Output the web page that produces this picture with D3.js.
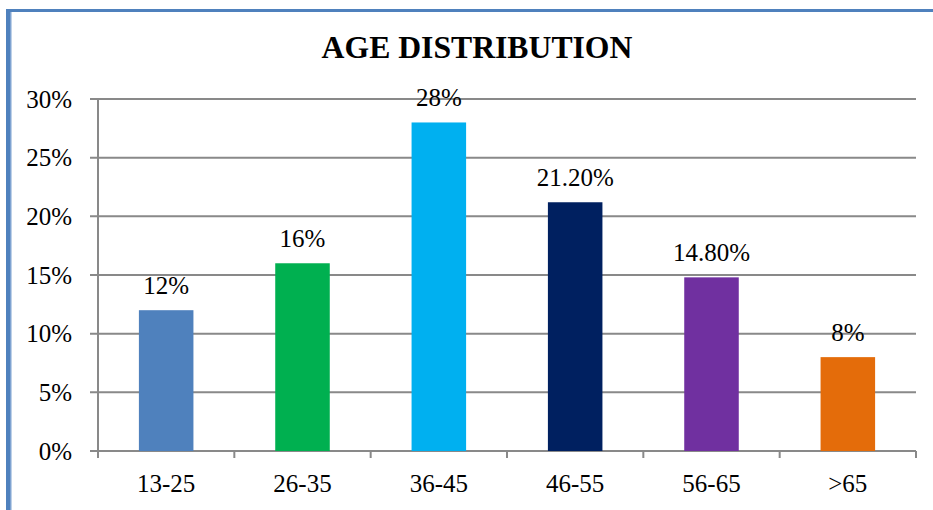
<!DOCTYPE html>
<html>
<head>
<meta charset="utf-8">
<script src="https://cdn.jsdelivr.net/npm/d3@7"></script>
<style>
  html, body { margin: 0; padding: 0; background: #fff; }
  svg { display: block; }
</style>
</head>
<body>
<svg id="chart" width="933" height="510"></svg>
<script>
const categories = ["13-25", "26-35", "36-45", "46-55", "56-65", ">65"];
const values = [12, 16, 28, 21.2, 14.8, 8];
const valueLabels = ["12%", "16%", "28%", "21.20%", "14.80%", "8%"];
const colors = ["#4F81BD", "#00B050", "#00B0F0", "#002060", "#7030A0", "#E46C0A"];
const yTicks = [0, 5, 10, 15, 20, 25, 30];
const title = "AGE DISTRIBUTION";

(function () {
const svg = d3.select("#chart");
const font = "Liberation Serif, Times New Roman, serif";
const gridColor = "#898989";

// frame border (top + left)
svg.append("rect").attr("x", 6).attr("y", 9).attr("width", 933).attr("height", 3).attr("fill", "#4F81BD");
svg.append("rect").attr("x", 6).attr("y", 9).attr("width", 5).attr("height", 510).attr("fill", "#4F81BD");
svg.append("rect").attr("x", 10).attr("y", 12).attr("width", 1.5).attr("height", 510).attr("fill", "#7FA3D1");

const pLeft = 98, pRight = 916, pTop = 99, pBottom = 451;

const x = d3.scaleBand().domain(categories).range([pLeft, pRight]).paddingInner(0.6).paddingOuter(0.3);
const xOuter = d3.scaleBand().domain(categories).range([pLeft, pRight]);
const y = d3.scaleLinear().domain([0, 30]).range([pBottom, pTop]);

// gridlines
svg.append("g").selectAll("line").data(yTicks).join("line")
  .attr("x1", pLeft - 8).attr("x2", pRight)
  .attr("y1", d => y(d)).attr("y2", d => y(d))
  .attr("stroke", gridColor).attr("stroke-width", 2);

// y axis line
svg.append("line").attr("x1", pLeft).attr("x2", pLeft).attr("y1", pTop).attr("y2", pBottom + 6)
  .attr("stroke", gridColor).attr("stroke-width", 2);

// x tick marks at category boundaries
const boundaries = categories.map(c => xOuter(c)).concat([pRight]);
svg.append("g").selectAll("line").data(boundaries).join("line")
  .attr("x1", d => d).attr("x2", d => d)
  .attr("y1", pBottom).attr("y2", pBottom + 7)
  .attr("stroke", gridColor).attr("stroke-width", 2);

// y tick labels
svg.append("g").selectAll("text").data(yTicks).join("text")
  .attr("x", 72).attr("y", d => y(d)).attr("dy", "0.35em")
  .attr("text-anchor", "end")
  .attr("font-family", font).attr("font-size", 25).attr("fill", "#000")
  .text(d => d + "%");

// bars
svg.append("g").selectAll("rect").data(values).join("rect")
  .attr("x", (d, i) => x(categories[i]))
  .attr("width", x.bandwidth())
  .attr("y", d => y(d))
  .attr("height", d => y(0) - y(d))
  .attr("fill", (d, i) => colors[i]);

// value labels
svg.append("g").selectAll("text").data(values).join("text")
  .attr("x", (d, i) => x(categories[i]) + x.bandwidth() / 2)
  .attr("y", d => y(d) - 16)
  .attr("text-anchor", "middle")
  .attr("font-family", font).attr("font-size", 25).attr("fill", "#000")
  .text((d, i) => valueLabels[i]);

// x labels
svg.append("g").selectAll("text").data(categories).join("text")
  .attr("x", d => xOuter(d) + xOuter.bandwidth() / 2)
  .attr("y", 492)
  .attr("text-anchor", "middle")
  .attr("font-family", font).attr("font-size", 25).attr("fill", "#000")
  .text(d => d);

// title
svg.append("text")
  .attr("x", 477).attr("y", 58)
  .attr("text-anchor", "middle")
  .attr("font-family", font).attr("font-size", 31.7).attr("font-weight", "bold").attr("fill", "#000")
  .text(title);
})();
</script>
</body>
</html>
